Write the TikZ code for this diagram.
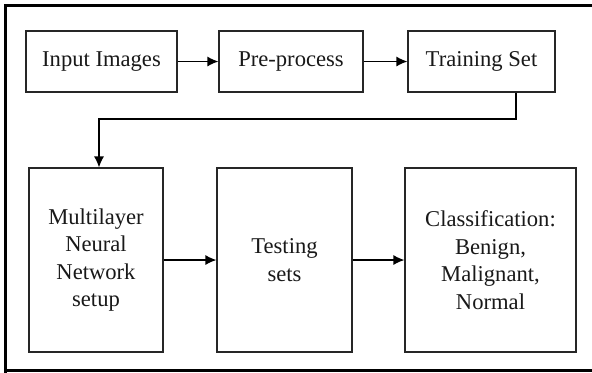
\documentclass[tikz,border=0pt]{standalone}
\usepackage{fontspec}
\setmainfont{Liberation Serif}
\usetikzlibrary{arrows.meta,calc}
\begin{document}
\begin{tikzpicture}[x=0.5pt,y=-0.5pt,
  box/.style={draw=black!85,line width=0.6pt,align=center,inner sep=1pt,
    font=\rmfamily\fontsize{11.3pt}{13.8pt}\selectfont,text=black!90},
  smallbox/.style={box,minimum height=30.5pt},
  tallbox/.style={box,minimum height=92pt},
  conn/.style={line width=0.6pt,-{Latex[length=5.5pt,width=5pt]}}]
\useasboundingbox (0,0) rectangle (592,372);
\clip (0,0) rectangle (592,372);
\fill[white] (0,0) rectangle (592,372);
\draw[line width=1.5pt] (5.5,380) -- (5.5,5.5) -- (620,5.5);
\draw[line width=1.5pt] (5.5,370) -- (620,370);
\node[smallbox,minimum width=75.5pt] (in) at (101.5,61.5) {Input Images};
\node[smallbox,minimum width=72pt] (pp) at (291,61.5) {Pre-process};
\node[smallbox,minimum width=73.5pt] (ts) at (481.5,61.5) {Training Set};
\node[tallbox,minimum width=67pt] (ml) at (96,260) {Multilayer\\Neural\\Network\\setup};
\node[tallbox,minimum width=67.5pt] (te) at (284.5,260) {Testing\\sets};
\node[tallbox,minimum width=85.5pt] (cl) at (490.5,260) {Classification:\\Benign,\\Malignant,\\Normal};
\coordinate (c1) at (516,119);
\coordinate (c2) at (99,119);
\draw[conn] (in) -- (pp);
\draw[conn] (pp) -- (ts);
\draw[conn] (ts.south -| c1) -- (c1) -- (c2) -- (c2 |- ml.north);
\draw[conn] (ml) -- (te);
\draw[conn] (te) -- (cl);
\end{tikzpicture}
\end{document}
